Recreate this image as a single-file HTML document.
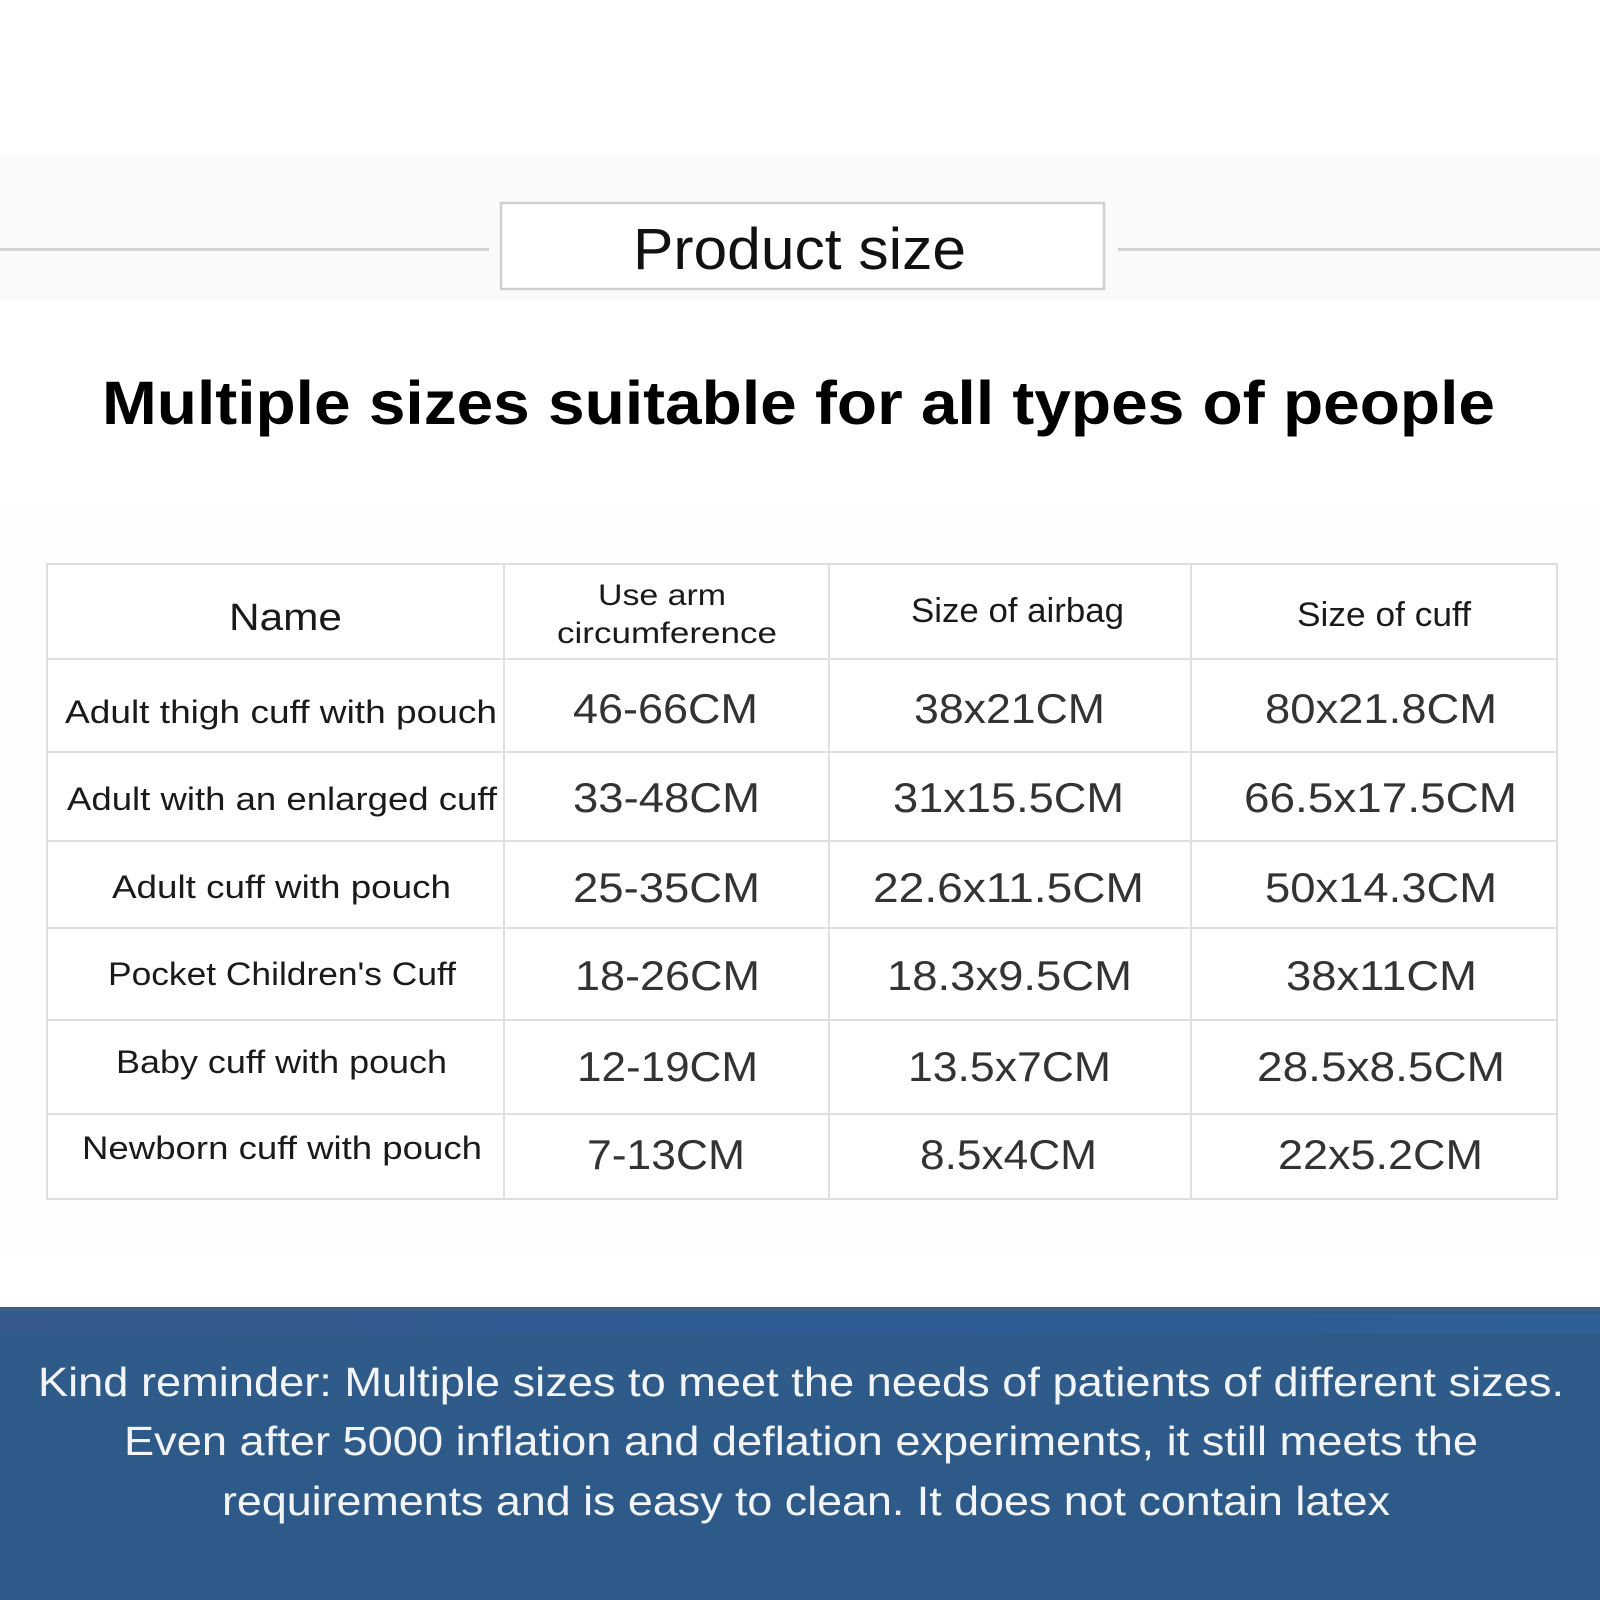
<!DOCTYPE html>
<html>
<head>
<meta charset="utf-8">
<style>
  html, body { margin: 0; padding: 0; background: #ffffff; }
  body { width: 1600px; height: 1600px; overflow: hidden; }
  svg { display: block; }
  text { font-family: "Liberation Sans", "DejaVu Sans", sans-serif; }
</style>
</head>
<body>
<svg width="1600" height="1600" viewBox="0 0 1600 1600" xmlns="http://www.w3.org/2000/svg">
  <defs>
    <linearGradient id="blue" x1="0" y1="0" x2="0" y2="1">
      <stop offset="0" stop-color="#2f5b8b"/>
      <stop offset="1" stop-color="#2d5a89"/>
    </linearGradient>
    <linearGradient id="stripe" x1="0" y1="0" x2="1" y2="0">
      <stop offset="0" stop-color="#35598a"/>
      <stop offset="0.5" stop-color="#2f5c96"/>
      <stop offset="1" stop-color="#2d5e94"/>
    </linearGradient>
  </defs>

  <!-- page background -->
  <rect x="0" y="0" width="1600" height="1600" fill="#ffffff"/>
  <rect x="0" y="155" width="1600" height="145" fill="#fafafa"/>
  <rect x="0" y="510" width="1600" height="740" fill="#fdfdfd"/>

  <!-- header lines and box -->
  <rect x="0" y="248" width="489" height="3" fill="#d2d2d2"/>
  <rect x="1118" y="248" width="482" height="3" fill="#d2d2d2"/>
  <rect x="501" y="203" width="603" height="86" fill="#ffffff" stroke="#cfcfcf" stroke-width="2.5"/>
  <text x="633" y="269" font-size="58" fill="#111" textLength="333" lengthAdjust="spacingAndGlyphs">Product size</text>

  <!-- title -->
  <text x="102" y="424" font-size="61" font-weight="bold" fill="#000" textLength="1393" lengthAdjust="spacingAndGlyphs">Multiple sizes suitable for all types of people</text>

  <!-- table -->
  <rect x="47" y="564" width="1510" height="635" fill="#ffffff" stroke="#dedede" stroke-width="2"/>
  <g stroke="#e0e0e0" stroke-width="2">
    <line x1="47" y1="659" x2="1557" y2="659"/>
    <line x1="47" y1="752" x2="1557" y2="752"/>
    <line x1="47" y1="841" x2="1557" y2="841"/>
    <line x1="47" y1="928" x2="1557" y2="928"/>
    <line x1="47" y1="1020" x2="1557" y2="1020"/>
    <line x1="47" y1="1114" x2="1557" y2="1114"/>
    <line x1="504" y1="564" x2="504" y2="1199"/>
    <line x1="829" y1="564" x2="829" y2="1199"/>
    <line x1="1191" y1="564" x2="1191" y2="1199"/>
  </g>

  <!-- header row -->
  <g fill="#1a1a1a">
    <text x="229" y="630" font-size="38" textLength="113" lengthAdjust="spacingAndGlyphs">Name</text>
    <text x="598" y="605" font-size="30" textLength="128" lengthAdjust="spacingAndGlyphs">Use arm</text>
    <text x="557" y="643" font-size="30" textLength="220" lengthAdjust="spacingAndGlyphs">circumference</text>
    <text x="911" y="622" font-size="34" textLength="213" lengthAdjust="spacingAndGlyphs">Size of airbag</text>
    <text x="1297" y="626" font-size="34" textLength="174" lengthAdjust="spacingAndGlyphs">Size of cuff</text>
  </g>

  <!-- name column -->
  <g fill="#1a1a1a" font-size="32">
    <text x="65" y="723" textLength="432" lengthAdjust="spacingAndGlyphs">Adult thigh cuff with pouch</text>
    <text x="67" y="810" textLength="430" lengthAdjust="spacingAndGlyphs">Adult with an enlarged cuff</text>
    <text x="112" y="898" textLength="339" lengthAdjust="spacingAndGlyphs">Adult cuff with pouch</text>
    <text x="108" y="985" textLength="348" lengthAdjust="spacingAndGlyphs">Pocket Children's Cuff</text>
    <text x="116" y="1073" textLength="331" lengthAdjust="spacingAndGlyphs">Baby cuff with pouch</text>
    <text x="82" y="1159" textLength="400" lengthAdjust="spacingAndGlyphs">Newborn cuff with pouch</text>
  </g>

  <!-- values -->
  <g fill="#333333" font-size="42">
    <text x="573" y="723" textLength="185" lengthAdjust="spacingAndGlyphs">46-66CM</text>
    <text x="914" y="723" textLength="191" lengthAdjust="spacingAndGlyphs">38x21CM</text>
    <text x="1265" y="723" textLength="232" lengthAdjust="spacingAndGlyphs">80x21.8CM</text>

    <text x="573" y="812" textLength="187" lengthAdjust="spacingAndGlyphs">33-48CM</text>
    <text x="893" y="812" textLength="231" lengthAdjust="spacingAndGlyphs">31x15.5CM</text>
    <text x="1244" y="812" textLength="273" lengthAdjust="spacingAndGlyphs">66.5x17.5CM</text>

    <text x="573" y="902" textLength="187" lengthAdjust="spacingAndGlyphs">25-35CM</text>
    <text x="873" y="902" textLength="271" lengthAdjust="spacingAndGlyphs">22.6x11.5CM</text>
    <text x="1265" y="902" textLength="232" lengthAdjust="spacingAndGlyphs">50x14.3CM</text>

    <text x="575" y="990" textLength="185" lengthAdjust="spacingAndGlyphs">18-26CM</text>
    <text x="887" y="990" textLength="245" lengthAdjust="spacingAndGlyphs">18.3x9.5CM</text>
    <text x="1286" y="990" textLength="191" lengthAdjust="spacingAndGlyphs">38x11CM</text>

    <text x="577" y="1081" textLength="181" lengthAdjust="spacingAndGlyphs">12-19CM</text>
    <text x="908" y="1081" textLength="203" lengthAdjust="spacingAndGlyphs">13.5x7CM</text>
    <text x="1257" y="1081" textLength="248" lengthAdjust="spacingAndGlyphs">28.5x8.5CM</text>

    <text x="587" y="1169" textLength="158" lengthAdjust="spacingAndGlyphs">7-13CM</text>
    <text x="920" y="1169" textLength="177" lengthAdjust="spacingAndGlyphs">8.5x4CM</text>
    <text x="1278" y="1169" textLength="205" lengthAdjust="spacingAndGlyphs">22x5.2CM</text>
  </g>

  <!-- blue band -->
  <rect x="0" y="1307" width="1600" height="293" fill="url(#blue)"/>
  <rect x="0" y="1307" width="1600" height="4" fill="#3d5d89"/>
  <rect x="0" y="1313" width="1600" height="20" fill="url(#stripe)"/>
  <g fill="#f2f4f8" font-size="41">
    <text x="38" y="1396" textLength="1526" lengthAdjust="spacingAndGlyphs">Kind reminder: Multiple sizes to meet the needs of patients of different sizes.</text>
    <text x="124" y="1455" textLength="1354" lengthAdjust="spacingAndGlyphs">Even after 5000 inflation and deflation experiments, it still meets the</text>
    <text x="222" y="1515" textLength="1168" lengthAdjust="spacingAndGlyphs">requirements and is easy to clean. It does not contain latex</text>
  </g>
</svg>
</body>
</html>
